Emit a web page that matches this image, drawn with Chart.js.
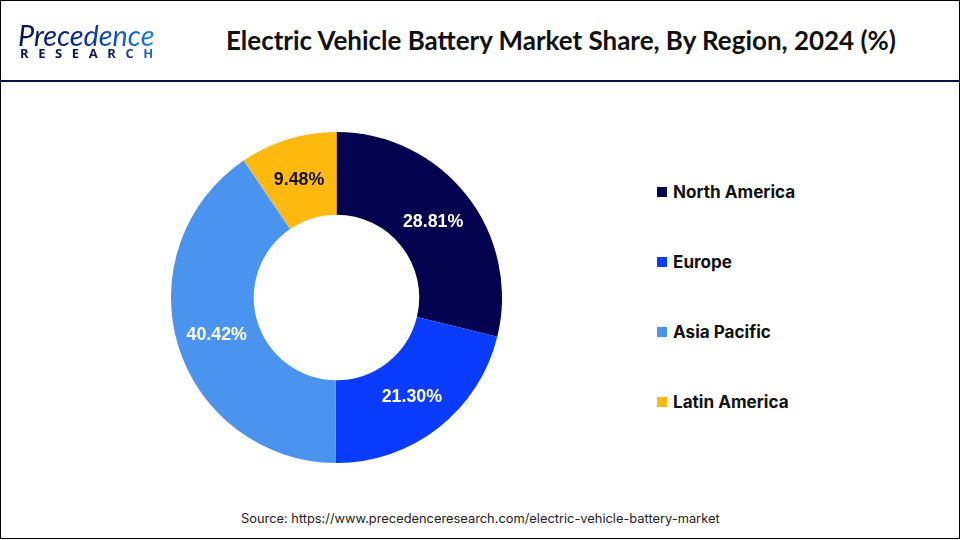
<!DOCTYPE html>
<html>
<head>
<meta charset="utf-8">
<script src="https://cdn.jsdelivr.net/npm/chart.js@4"></script>
<style>
  html, body { margin: 0; padding: 0; background: #fff; }
  #page { position: relative; width: 960px; height: 540px; overflow: hidden; background: #fff; }
  #frame { position: absolute; left: 0; top: 0; width: 958px; height: 537px; border: 1px solid #000; }
  #rule { position: absolute; left: 0; top: 80px; width: 960px; height: 2px; background: #0a1240; }
  #title { position: absolute; left: 226px; top: 23px; width: 680px; font: 700 25.96px Lato, sans-serif; color: #111; white-space: nowrap; line-height: 34px; }
  #logo1 { position: absolute; left: 18px; top: 18px; font: italic 400 28.8px Lato, sans-serif; line-height: 34px; white-space: nowrap;
    background: linear-gradient(90deg, #0a1250 0%, #0a2a90 45%, #1f7fe0 100%); -webkit-background-clip: text; background-clip: text; color: transparent; }
  #logo2 { position: absolute; left: 20px; top: 46px; font: 700 13px "Open Sans", sans-serif; line-height: 15px; letter-spacing: 9.6px; white-space: nowrap;
    background: linear-gradient(90deg, #0a1250 0%, #0a1250 60%, #2a7fe0 100%); -webkit-background-clip: text; background-clip: text; color: transparent; }
  #chartBox { position: absolute; left: 171px; top: 132px; width: 331px; height: 331px; }
  #legend { position: absolute; left: 657px; top: 0; }
  .item { position: absolute; left: 0; white-space: nowrap; font: 700 17.1px Inter, sans-serif; color: #111; line-height: 20px; }
  .item i { position: absolute; left: 0; top: 5px; width: 10px; height: 10px; }
  .item span { position: absolute; left: 16px; top: 0; }
  #source { position: absolute; left: 241px; top: 510px; font: 400 12.85px Inter, sans-serif; color: #222; white-space: nowrap; line-height: 18px; }
</style>
</head>
<body>
<div id="page">
  <div id="frame"></div>
  <div id="rule"></div>
  <div id="logo1">Precedence</div>
  <div id="logo2">RESEARCH</div>
  <div id="title">Electric Vehicle Battery Market Share, By Region, 2024 (%)</div>
  <div id="chartBox"><canvas id="donut"></canvas></div>
  <div id="legend"></div>
  <div id="source">Source: https://www.precedenceresearch.com/electric-vehicle-battery-market</div>
</div>
<script>
const regions = ['North America', 'Europe', 'Asia Pacific', 'Latin America'];
const shares = [28.81, 21.30, 40.42, 9.48];
const colors = ['#03024f', '#0a3cff', '#4a94f0', '#ffb90f'];

// Percent labels in the middle of each ring segment
const sliceLabels = {
  id: 'sliceLabels',
  afterDatasetsDraw: function(chart) {
    const ctx = chart.ctx;
    const arcs = chart.getDatasetMeta(0).data;
    ctx.save();
    ctx.font = '700 17.8px "Liberation Sans", Arial, sans-serif';
    ctx.textAlign = 'center';
    ctx.textBaseline = 'middle';
    arcs.forEach(function(arc, i) {
      const p = arc.tooltipPosition();
      ctx.fillStyle = i === 3 ? '#111' : '#fff';
      ctx.fillText(shares[i].toFixed(2) + '%', p.x - 1, p.y + 1.5);
    });
    ctx.restore();
  }
};

new Chart(document.getElementById('donut'), {
  type: 'doughnut',
  data: {
    labels: regions,
    datasets: [{ data: shares, backgroundColor: colors, borderWidth: 0 }]
  },
  options: {
    responsive: true,
    maintainAspectRatio: false,
    animation: false,
    cutout: '50%',
    layout: { padding: 0 },
    plugins: { legend: { display: false }, tooltip: { enabled: false } }
  },
  plugins: [sliceLabels]
});

// Legend
const legendEl = document.getElementById('legend');
regions.forEach(function(name, i) {
  const row = document.createElement('div');
  row.className = 'item';
  row.style.top = (182 + i * 70) + 'px';
  const sw = document.createElement('i');
  sw.style.background = colors[i];
  const txt = document.createElement('span');
  txt.textContent = name;
  row.appendChild(sw);
  row.appendChild(txt);
  legendEl.appendChild(row);
});
</script>
</body>
</html>
